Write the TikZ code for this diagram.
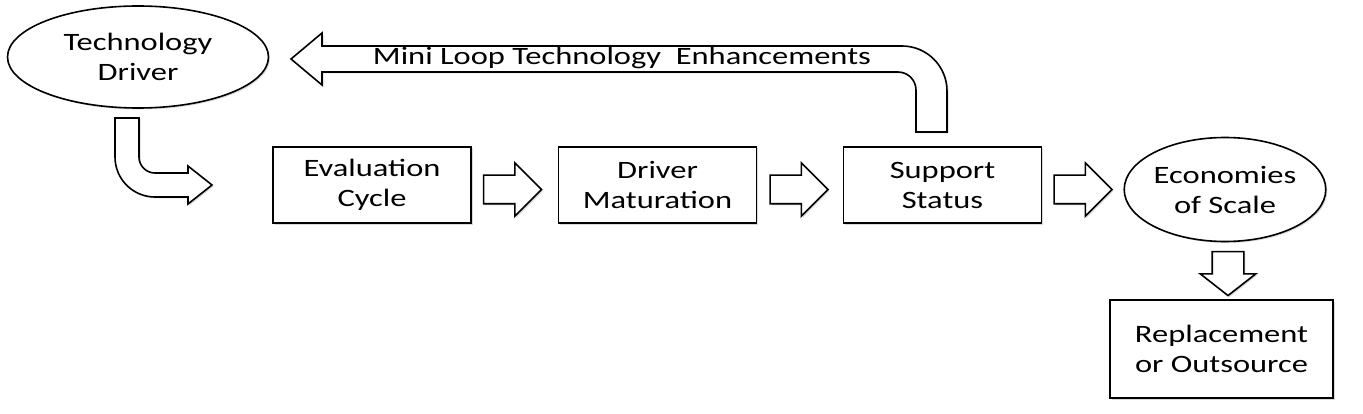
\documentclass[tikz,border=0pt]{standalone}
\usepackage{fontspec}
\setmainfont{Carlito}[FakeStretch=1.3]
\usetikzlibrary{shapes.geometric,shapes.arrows,shadows,calc}
\tikzset{
	outline/.style={draw=black, line width=1.6pt, fill=white, drop shadow={shadow xshift=1.5pt, shadow yshift=-1.5pt, opacity=0.3}},
	stagebox/.style={outline, rectangle, minimum width=198pt, minimum height=76pt, align=center, inner sep=0pt},
	stageellipse/.style={outline, ellipse, align=center, inner sep=0pt},
	fatarrow/.style={outline, single arrow, anchor=tail, minimum width=52pt, minimum height=58pt, single arrow head extend=12.5pt, inner xsep=0pt, inner ysep=13.5pt}
}

\begin{document}
\begin{tikzpicture}[x=1pt, y=1pt, font=\fontsize{25pt}{30pt}\selectfont]
	\useasboundingbox (0,0) rectangle (1363,413);
	\node[stageellipse, minimum width=261pt, minimum height=102pt] (tech) at (138,356) {Technology\\Driver};
	\node[stagebox] (eval) at (372,228) {Evaluation\\Cycle};
	\node[stagebox] (driver) at (657.5,228) {Driver\\Maturation};
	\node[stagebox] (support) at (942.5,228) {Support\\Status};
	\node[stageellipse, minimum width=176pt, minimum height=104pt] (econ) at (1225,223.5) {Economies\\of Scale};
	\node[stagebox, minimum width=223pt, minimum height=98pt] (repl) at (1221.5,64) {Replacement\\or Outsource};
	\draw[outline] (139,295) -- (139,256) arc[start angle=180, end angle=270, radius=16pt] -- (188,240) -- (188,247) -- (212,228) -- (188,209) -- (188,216) -- (155,216) arc[start angle=270, end angle=180, radius=40pt] -- (115,295) -- cycle;
	\node[fatarrow] (evaltodriver) at ($(eval.east)+(11,-4.5)$) {};
	\node[fatarrow] (drivertosupport) at ($(driver.east)+(12,-4.5)$) {};
	\node[fatarrow] (supporttoecon) at ($(support.east)+(11,-4.5)$) {};
	\node[fatarrow, shape border rotate=270, minimum width=54pt, minimum height=43pt, single arrow head extend=12pt, single arrow tip angle=104, inner sep=15pt] (econtorepl) at ($(econ.south)+(3,-8.5)$) {};
	\draw[outline] (291,354) -- (322,380) -- (322,367) -- (902,367) arc[start angle=90, end angle=0, radius=45pt] -- (947,281) -- (916,281) -- (916,323) arc[start angle=0, end angle=90, radius=18pt] -- (322,341) -- (322,328) -- cycle;
	\node (looplabel) at (622,355) {Mini Loop Technology\ \ Enhancements};
\end{tikzpicture}
\end{document}
